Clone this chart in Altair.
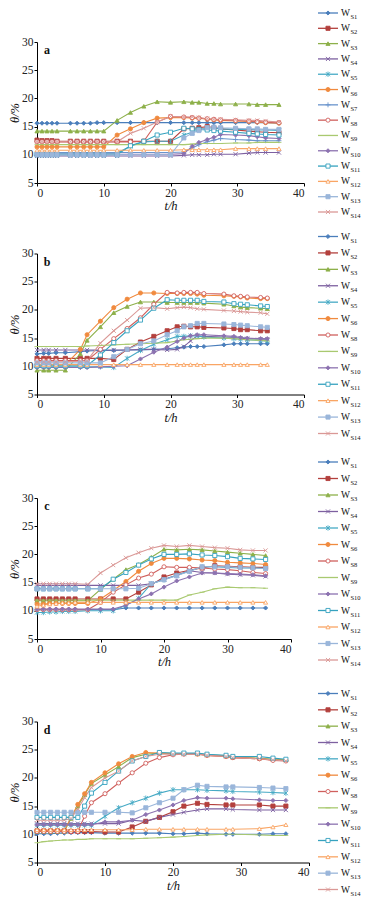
import altair as alt
import pandas as pd

SERIES = ["S1", "S2", "S3", "S4", "S5", "S6", "S7", "S8", "S9", "S10", "S11", "S12", "S13", "S14"]
COLOR = {"S1": "#4A7EBB", "S2": "#B3403D", "S3": "#8DB04A", "S4": "#7D60A0", "S5": "#46AAC5",
         "S6": "#F08A3E", "S7": "#6A94CC", "S8": "#D0605D", "S9": "#A9C970", "S10": "#8C72B0",
         "S11": "#35A2BF", "S12": "#F9A564", "S13": "#9AB6DA", "S14": "#DA9896"}
XP = "M-1,-1L1,1M-1,1L1,-1"
SHAPE = {"S1": "diamond", "S2": "square", "S3": "triangle-up", "S4": XP,
         "S5": "M-1,-1L1,1M-1,1L1,-1M0,-1.3L0,1.3", "S6": "circle", "S7": "M-1.2,0L1.2,0M0,-1.2L0,1.2",
         "S8": "circle", "S9": "M-1.2,0L1.2,0", "S10": "diamond", "S11": "square",
         "S12": "triangle-up", "S13": "square", "S14": XP}
OPEN = {"S8", "S11", "S12"}

# ---------------- panel a ----------------
ta = [0, 0.75, 1.5, 2.25, 3, 5, 6, 7, 8, 9, 10, 12, 14, 16, 18, 20, 22, 23.25, 24.25, 25.5, 26.5, 27.5, 29.75, 31.75, 33, 34.25, 36.25]
a_s1 = [15.6, 15.6, 15.6, 15.6, 15.6, 15.6, 15.6, 15.6, 15.6, 15.7, 15.7, 15.7, 15.7, 15.7, 15.7, 15.7, 15.7, 15.7, 15.7, 15.7, 15.7, 15.7, 15.7, 15.7, 15.7, 15.7, 15.6]
a_s2 = [12.6, 12.5, 12.5, 12.5, 12.4, 12.4, 12.4, 12.4, 12.4, 12.4, 12.4, 12.4, 12.4, 12.4, 12.4, 12.4, 14.6, 14.7, 14.8, 15.0, 14.8, 14.6, 14.4, 14.2, 14.1, 14.0, 13.9]
a_s3 = [14.2, 14.2, 14.2, 14.2, 14.2, 14.2, 14.2, 14.2, 14.2, 14.2, 14.2, 16.1, 17.5, 18.6, 19.4, 19.3, 19.4, 19.3, 19.3, 19.1, 19.1, 19.0, 19.0, 19.0, 18.9, 18.9, 18.9]
a_s4 = [9.8, 9.8, 9.8, 9.8, 9.8, 9.8, 9.8, 9.8, 9.8, 9.8, 9.8, 9.8, 9.8, 9.8, 9.8, 9.8, 9.9, 10.0, 10.0, 10.0, 10.1, 10.1, 10.1, 10.3, 10.4, 10.4, 10.4]
a_s5 = [10.3, 10.3, 10.3, 10.3, 10.3, 10.3, 10.3, 10.3, 10.3, 10.3, 10.3, 10.3, 11.5, 12.3, 12.4, 12.4, 13.5, 14.0, 14.5, 14.8, 14.7, 14.6, 14.5, 14.5, 14.4, 14.4, 14.3]
a_s6 = [11.4, 11.4, 11.4, 11.4, 11.4, 11.4, 11.4, 11.4, 11.4, 11.4, 11.4, 13.5, 14.6, 15.7, 16.5, 16.6, 16.6, 16.5, 16.5, 16.3, 16.2, 16.1, 16.0, 15.9, 15.8, 15.7, 15.6]
a_s7 = [10.4, 10.4, 10.4, 10.4, 10.4, 10.4, 10.4, 10.4, 10.4, 10.4, 10.4, 10.4, 10.4, 10.4, 10.4, 10.4, 10.5, 11.2, 11.8, 12.3, 12.6, 12.9, 12.7, 12.6, 12.5, 12.5, 12.5]
a_s8 = [12.3, 12.3, 12.3, 12.3, 12.3, 12.3, 12.3, 12.3, 12.3, 12.3, 12.3, 12.3, 12.3, 12.4, 15.8, 16.8, 16.7, 16.6, 16.5, 16.4, 16.3, 16.2, 16.1, 16.0, 15.9, 15.8, 15.7]
a_s9 = [11.8, 11.8, 11.8, 11.8, 11.8, 11.8, 11.8, 11.8, 11.8, 11.8, 11.8, 11.8, 11.8, 11.8, 11.8, 11.8, 11.8, 11.9, 12.0, 12.0, 12.0, 12.0, 12.1, 12.1, 12.2, 12.2, 12.2]
a_s10 = [10.1, 10.1, 10.1, 10.1, 10.1, 10.1, 10.1, 10.1, 10.1, 10.1, 10.1, 10.1, 10.1, 10.1, 10.1, 10.1, 10.2, 11.5, 12.2, 12.7, 13.1, 13.6, 13.5, 13.4, 13.2, 13.0, 12.9]
a_s11 = [10.0, 10.0, 10.0, 10.0, 10.0, 10.0, 10.0, 10.0, 10.0, 10.0, 10.0, 10.0, 11.6, 12.4, 13.5, 14.0, 14.7, 14.6, 14.5, 14.4, 14.3, 14.2, 14.0, 13.8, 13.7, 13.6, 13.5]
a_s12 = [10.8, 10.8, 10.8, 10.8, 10.8, 10.8, 10.8, 10.8, 10.8, 10.8, 10.8, 10.8, 10.8, 10.8, 10.8, 10.8, 10.9, 10.9, 10.9, 10.9, 10.9, 10.9, 11.1, 11.1, 11.1, 11.1, 11.1]
a_s13 = [10.0, 10.0, 10.0, 10.0, 10.0, 10.0, 10.0, 10.0, 10.0, 10.0, 10.0, 10.0, 10.0, 10.0, 10.0, 10.0, 13.0, 13.8, 14.3, 14.8, 14.9, 14.8, 14.7, 14.6, 14.6, 14.5, 14.5]
a_s14 = [12.3, 12.3, 12.3, 12.3, 12.3, 12.3, 12.3, 12.3, 12.3, 12.3, 12.3, 12.3, 13.8, 14.7, 15.8, 16.8, 16.7, 16.7, 16.6, 16.4, 16.3, 16.3, 16.2, 16.1, 16.1, 16.0, 15.8]

# ---------------- panel b ----------------
tb = [0, 1, 1.75, 2.85, 4.25, 6.5, 7.5, 9.5, 11.5, 13.5, 15.5, 17.5, 19.5, 21, 22, 23, 24, 25, 28, 29.5, 30.5, 31.5, 33.5, 34.5]
b_s1 = [12.2, 12.3, 12.3, 12.4, 12.4, 12.6, 12.7, 12.8, 12.8, 12.9, 12.9, 13.0, 13.1, 13.3, 13.4, 13.5, 13.5, 13.5, 13.8, 14.0, 14.0, 14.0, 14.0, 14.0]
b_s2 = [11.4, 11.4, 11.4, 11.4, 11.4, 11.4, 11.4, 11.4, 11.2, 13.0, 14.3, 15.3, 16.3, 17.0, 17.1, 17.0, 17.0, 16.9, 16.8, 16.7, 16.5, 16.5, 16.3, 16.3]
b_s3 = [9.3, 9.3, 9.3, 9.3, 9.3, 12.2, 14.6, 17.0, 19.5, 20.6, 21.4, 21.4, 21.3, 21.3, 21.3, 21.3, 21.3, 21.2, 21.0, 20.7, 20.5, 20.4, 20.3, 20.2]
b_s4 = [12.9, 12.9, 12.9, 12.9, 12.9, 12.9, 12.9, 12.9, 12.9, 12.9, 13.0, 13.0, 12.9, 13.0, 13.5, 14.5, 15.4, 15.3, 15.2, 15.1, 15.0, 14.9, 14.8, 14.8]
b_s5 = [9.9, 9.9, 9.9, 9.9, 9.9, 9.9, 9.9, 9.9, 9.8, 11.4, 12.8, 13.9, 14.7, 15.3, 15.3, 15.4, 15.4, 15.2, 15.0, 14.9, 14.8, 14.7, 14.6, 14.5]
b_s6 = [10.3, 10.3, 10.3, 10.3, 10.3, 13.0, 15.6, 18.0, 20.4, 21.9, 23.0, 23.0, 22.9, 22.9, 22.9, 22.9, 22.8, 22.6, 22.5, 22.4, 22.3, 22.1, 22.0, 22.0]
b_s8 = [11.0, 11.0, 11.0, 11.0, 11.0, 11.0, 11.0, 13.0, 14.9, 16.7, 18.6, 21.0, 23.1, 23.0, 23.1, 23.1, 23.1, 22.9, 22.8, 22.5, 22.4, 22.3, 22.2, 22.1]
b_s9 = [13.5, 13.5, 13.5, 13.5, 13.5, 13.5, 13.6, 13.7, 13.8, 13.9, 14.0, 14.1, 14.2, 14.5, 14.7, 14.8, 14.9, 15.0, 15.0, 14.9, 14.8, 14.7, 14.6, 14.5]
b_s10 = [9.8, 9.8, 9.8, 9.8, 9.8, 9.8, 9.8, 9.9, 10.0, 10.1, 11.3, 12.5, 13.4, 14.4, 15.0, 15.4, 15.6, 15.6, 15.4, 15.3, 15.1, 15.0, 14.9, 14.9]
b_s11 = [10.1, 10.1, 10.1, 10.1, 10.1, 10.1, 10.1, 12.0, 14.2, 16.3, 18.2, 20.3, 21.8, 21.7, 21.7, 21.7, 21.7, 21.5, 21.4, 21.1, 21.0, 20.9, 20.7, 20.6]
b_s12 = [10.3, 10.3, 10.3, 10.3, 10.3, 10.3, 10.3, 10.3, 10.3, 10.3, 10.3, 10.3, 10.3, 10.3, 10.3, 10.3, 10.3, 10.3, 10.3, 10.3, 10.3, 10.3, 10.3, 10.3]
b_s13 = [10.6, 10.6, 10.6, 10.6, 10.6, 10.6, 10.6, 10.6, 11.7, 13.0, 14.0, 14.5, 15.6, 16.3, 17.0, 17.2, 17.6, 17.6, 17.5, 17.4, 17.3, 17.2, 17.0, 16.9]
b_s14 = [10.8, 10.8, 10.8, 10.8, 10.8, 10.9, 11.0, 14.1, 16.3, 18.2, 20.3, 20.4, 20.2, 20.4, 20.5, 20.4, 20.2, 20.1, 19.9, 19.8, 19.7, 19.6, 19.5, 19.3]

# ---------------- panel c ----------------
tc = [0, 1, 2, 3, 4, 5, 6, 8, 10, 12, 14, 16, 18, 20, 22, 24, 26, 28, 30, 32, 34, 36]
c_s1 = [10.2, 10.2, 10.2, 10.2, 10.2, 10.2, 10.2, 10.2, 10.2, 10.2, 10.5, 10.5, 10.5, 10.5, 10.5, 10.5, 10.5, 10.5, 10.5, 10.5, 10.5, 10.5]
c_s2 = [12.1, 12.1, 12.1, 12.1, 12.1, 12.1, 12.1, 12.1, 12.1, 12.1, 12.1, 13.3, 14.6, 16.0, 16.7, 17.2, 17.6, 18.0, 17.9, 17.8, 17.7, 17.7]
c_s3 = [11.8, 11.8, 11.8, 11.8, 11.8, 11.8, 11.8, 11.8, 13.8, 15.6, 17.3, 18.2, 19.5, 20.9, 20.8, 20.9, 20.8, 20.6, 20.4, 20.2, 20.0, 19.8]
c_s4 = [14.5, 14.5, 14.5, 14.5, 14.5, 14.5, 14.5, 14.5, 14.5, 14.5, 14.5, 14.5, 14.8, 15.6, 16.3, 17.1, 16.8, 16.7, 16.5, 16.4, 16.3, 16.1]
c_s5 = [9.7, 9.7, 9.8, 9.8, 9.9, 9.9, 9.9, 10.0, 10.0, 10.0, 11.0, 12.2, 14.8, 15.5, 16.3, 17.0, 17.8, 17.8, 17.7, 17.6, 17.6, 17.5]
c_s6 = [11.2, 11.2, 11.3, 11.3, 11.3, 11.3, 11.3, 11.3, 12.1, 13.6, 15.2, 17.0, 18.4, 19.3, 19.3, 19.2, 19.0, 18.9, 18.6, 18.5, 18.4, 18.2]
c_s8 = [10.2, 10.2, 10.2, 10.2, 10.2, 10.2, 10.2, 10.2, 11.5, 13.3, 14.6, 15.8, 16.5, 17.8, 17.7, 17.7, 17.6, 17.4, 17.3, 17.1, 16.8, 16.6]
c_s9 = [11.9, 11.9, 11.9, 11.9, 11.9, 11.9, 11.9, 11.9, 11.9, 11.9, 11.9, 11.9, 11.9, 11.9, 11.9, 12.8, 13.3, 13.9, 14.2, 14.1, 14.1, 14.0]
c_s10 = [10.3, 10.3, 10.3, 10.3, 10.3, 10.3, 10.3, 10.3, 10.3, 10.3, 11.0, 12.1, 13.0, 14.2, 15.3, 16.0, 16.7, 16.7, 16.6, 16.5, 16.4, 16.2]
c_s11 = [13.9, 13.9, 13.9, 13.9, 13.9, 13.9, 13.9, 13.9, 13.9, 15.6, 16.8, 18.1, 19.2, 20.0, 20.0, 20.1, 19.9, 19.8, 19.6, 19.3, 19.2, 19.1]
c_s12 = [10.8, 11.0, 11.2, 11.3, 11.4, 11.4, 11.5, 11.5, 11.5, 11.5, 11.5, 11.5, 11.5, 11.5, 11.5, 11.5, 11.5, 11.5, 11.5, 11.5, 11.5, 11.5]
c_s13 = [13.9, 13.9, 13.9, 13.9, 13.9, 13.9, 13.9, 13.9, 13.9, 13.9, 13.9, 14.0, 14.8, 15.5, 16.2, 17.0, 17.8, 17.8, 17.8, 17.7, 17.6, 17.5]
c_s14 = [14.8, 14.8, 14.8, 14.8, 14.8, 14.8, 14.8, 14.7, 16.7, 18.1, 19.4, 20.3, 21.1, 21.6, 21.4, 21.6, 21.4, 21.2, 21.1, 20.8, 20.7, 20.7]

# ---------------- panel d ----------------
td = [0, 1, 2, 3, 4, 5, 6, 7, 8, 10, 12, 14, 16, 18, 20, 21.6, 23.6, 25, 27.8, 28.8, 32.7, 34.7, 36.6]
d_s1 = [10.1, 10.1, 10.1, 10.2, 10.2, 10.3, 10.3, 10.3, 10.3, 10.2, 10.2, 10.2, 10.2, 10.2, 10.1, 10.1, 10.2, 10.1, 10.0, 10.0, 10.0, 10.1, 10.1]
d_s2 = [10.6, 10.6, 10.6, 10.6, 10.6, 10.5, 10.5, 10.5, 10.5, 10.4, 10.4, 11.3, 12.3, 13.0, 14.0, 15.0, 15.5, 15.3, 15.2, 15.2, 15.2, 15.0, 15.0]
d_s3 = [10.5, 10.5, 10.5, 10.5, 10.5, 12.8, 15.0, 17.0, 19.0, 20.5, 22.0, 23.6, 24.2, 24.4, 24.3, 24.3, 24.3, 24.1, 23.9, 23.7, 23.5, 23.3, 23.2]
d_s4 = [11.9, 11.9, 11.9, 11.9, 11.9, 11.9, 11.9, 11.9, 11.9, 11.9, 11.9, 12.5, 12.3, 13.0, 13.5, 13.9, 14.3, 14.5, 14.5, 14.4, 14.3, 14.3, 14.3]
d_s5 = [11.6, 11.6, 11.6, 11.6, 11.6, 11.6, 11.6, 11.6, 11.6, 13.2, 14.7, 15.6, 16.4, 17.3, 17.9, 17.9, 17.9, 17.8, 17.7, 17.6, 17.5, 17.4, 17.3]
d_s6 = [10.6, 10.6, 10.6, 10.6, 10.6, 13.0, 15.3, 17.2, 19.2, 20.9, 22.5, 23.8, 24.5, 24.4, 24.3, 24.3, 24.2, 24.0, 23.8, 23.6, 23.4, 23.2, 23.1]
d_s8 = [10.5, 10.5, 10.5, 10.5, 10.5, 10.5, 10.5, 13.2, 15.6, 17.2, 19.1, 20.9, 22.6, 23.6, 24.1, 24.2, 24.3, 24.0, 23.8, 23.6, 23.4, 23.1, 23.0]
d_s9 = [8.5, 8.7, 8.8, 8.9, 9.0, 9.0, 9.1, 9.1, 9.2, 9.2, 9.2, 9.2, 9.3, 9.4, 9.5, 9.6, 9.8, 9.9, 10.0, 10.0, 9.9, 9.8, 9.8]
d_s10 = [11.7, 11.7, 11.7, 11.7, 11.7, 11.7, 11.7, 11.7, 11.7, 12.2, 12.2, 12.5, 13.5, 14.3, 15.2, 16.0, 16.5, 16.4, 16.4, 16.3, 16.1, 16.0, 16.0]
d_s11 = [13.0, 13.0, 13.0, 13.0, 13.0, 13.0, 13.0, 15.0, 17.3, 19.2, 21.2, 23.0, 23.8, 24.5, 24.4, 24.4, 24.4, 24.2, 24.0, 23.8, 23.8, 23.5, 23.3]
d_s12 = [10.8, 10.8, 10.8, 10.8, 10.8, 10.8, 10.8, 10.8, 10.8, 10.8, 10.8, 10.8, 10.9, 10.9, 10.9, 10.9, 10.9, 10.9, 10.9, 10.9, 11.0, 11.3, 11.7]
d_s13 = [13.9, 13.9, 13.9, 13.9, 13.9, 13.9, 13.9, 13.9, 13.9, 13.9, 13.9, 13.8, 14.7, 15.6, 16.4, 17.9, 18.7, 18.5, 18.4, 18.4, 18.3, 18.2, 18.1]
d_s14 = [12.5, 12.5, 12.5, 12.5, 12.5, 12.8, 14.5, 16.5, 18.3, 20.0, 21.2, 23.0, 23.8, 24.2, 24.2, 24.2, 24.2, 24.0, 23.8, 23.6, 23.4, 23.2, 23.0]

X_TICKS = [0, 10, 20, 30, 40]
Y_TICKS = [5, 10, 15, 20, 25, 30]
SERIF = "Liberation Serif"
PLOT_H = 141
LX0, LX1, LXM, LTW, LTS = 281, 301, 291, 304, 313.5


def build_panel(letter, times, data, width, leg_top, leg_bottom):
    names = [n for n in SERIES if n in data]
    rows = [{"series": n, "t": t, "v": v} for n in names for t, v in zip(times, data[n])]
    df = pd.DataFrame(rows)
    leg = pd.DataFrame({"series": names, "idx": list(range(len(names))), "sub": names})

    stroke_scale = alt.Scale(domain=names, range=[COLOR[n] for n in names])
    fill_scale = alt.Scale(domain=names, range=["white" if n in OPEN else COLOR[n] for n in names])
    shape_scale = alt.Scale(domain=names, range=[SHAPE[n] for n in names])
    stroke = alt.Stroke("series:N", scale=stroke_scale, legend=None)
    fill = alt.Fill("series:N", scale=fill_scale, legend=None)
    shape = alt.Shape("series:N", scale=shape_scale, legend=None)

    x = alt.X("t:Q", scale=alt.Scale(domain=[0, 40], nice=False),
              axis=alt.Axis(values=X_TICKS, title="t/h", tickSize=3, labelPadding=1,
                            titlePadding=1, titleFontStyle="italic"))
    yscale = alt.Scale(domain=[5, 30], nice=False, zero=False)
    y_axis = alt.Y("v:Q", scale=yscale,
                   axis=alt.Axis(values=Y_TICKS, title="θ/%", tickSize=3, labelPadding=1,
                                 titlePadding=0, titleFontStyle="italic"))
    y_noaxis = alt.Y("v:Q", scale=yscale, axis=None)

    lines = alt.Chart(df).mark_line(strokeWidth=1.1).encode(x=x, y=y_axis, stroke=stroke)
    points = alt.Chart(df).mark_point(filled=True, size=17, strokeWidth=0.9, opacity=1).encode(
        x=x, y=y_noaxis, stroke=stroke, fill=fill, shape=shape)

    ly = alt.Y("idx:Q", scale=alt.Scale(domain=[0, len(names) - 1], range=[leg_top, leg_bottom],
                                        nice=False, zero=False), axis=None)
    leg_rule = alt.Chart(leg).mark_rule(strokeWidth=1.3).encode(
        x=alt.value(LX0), x2=alt.value(LX1), y=ly, stroke=stroke)
    leg_pts = alt.Chart(leg).mark_point(filled=True, size=17, strokeWidth=0.9, opacity=1).encode(
        x=alt.value(LXM), y=ly, stroke=stroke, fill=fill, shape=shape)
    leg_w = alt.Chart(leg).mark_text(align="left", baseline="middle", font=SERIF, fontSize=9.5,
                                     color="#111").encode(x=alt.value(LTW), y=ly, text=alt.value("W"))
    leg_sub = alt.Chart(leg).mark_text(align="left", baseline="middle", font=SERIF, fontSize=6.5,
                                       dy=4, color="#111").encode(x=alt.value(LTS), y=ly, text="sub:N")
    lab = alt.Chart(pd.DataFrame({"lab": [letter]})).mark_text(
        align="center", baseline="middle", font=SERIF, fontSize=12, fontWeight="bold",
        color="#111").encode(x=alt.value(10), y=alt.value(8), text="lab:N")

    return alt.layer(lines, points, leg_rule, leg_pts, leg_w, leg_sub, lab).resolve_scale(
        y="independent").properties(width=width, height=PLOT_H)


pa = build_panel("a", ta, {"S1": a_s1, "S2": a_s2, "S3": a_s3, "S4": a_s4, "S5": a_s5, "S6": a_s6,
                           "S7": a_s7, "S8": a_s8, "S9": a_s9, "S10": a_s10, "S11": a_s11,
                           "S12": a_s12, "S13": a_s13, "S14": a_s14}, 267, -29, 170)
pb = build_panel("b", tb, {"S1": b_s1, "S2": b_s2, "S3": b_s3, "S4": b_s4, "S5": b_s5, "S6": b_s6,
                           "S8": b_s8, "S9": b_s9, "S10": b_s10, "S11": b_s11,
                           "S12": b_s12, "S13": b_s13, "S14": b_s14}, 267, -17, 180)
pc = build_panel("c", tc, {"S1": c_s1, "S2": c_s2, "S3": c_s3, "S4": c_s4, "S5": c_s5, "S6": c_s6,
                           "S8": c_s8, "S9": c_s9, "S10": c_s10, "S11": c_s11,
                           "S12": c_s12, "S13": c_s13, "S14": c_s14}, 254, -36, 162)
pd_ = build_panel("d", td, {"S1": d_s1, "S2": d_s2, "S3": d_s3, "S4": d_s4, "S5": d_s5, "S6": d_s6,
                            "S8": d_s8, "S9": d_s9, "S10": d_s10, "S11": d_s11,
                            "S12": d_s12, "S13": d_s13, "S14": d_s14}, 272, -28, 168)

chart = alt.vconcat(
    alt.vconcat(pa, pb, spacing=11.5),
    alt.vconcat(pc, pd_, spacing=20.5),
    spacing=16,
).properties(padding=0, background="white").configure_view(stroke=None).configure_axis(
    grid=False, domainColor="#000", tickColor="#000", labelColor="#222", titleColor="#111",
    labelFont=SERIF, titleFont=SERIF, labelFontSize=11.5, titleFontSize=12.5, titleFontWeight="normal",
    domainWidth=1, tickWidth=1)

chart.save("out.html", embed_options={"renderer": "svg", "actions": False})
